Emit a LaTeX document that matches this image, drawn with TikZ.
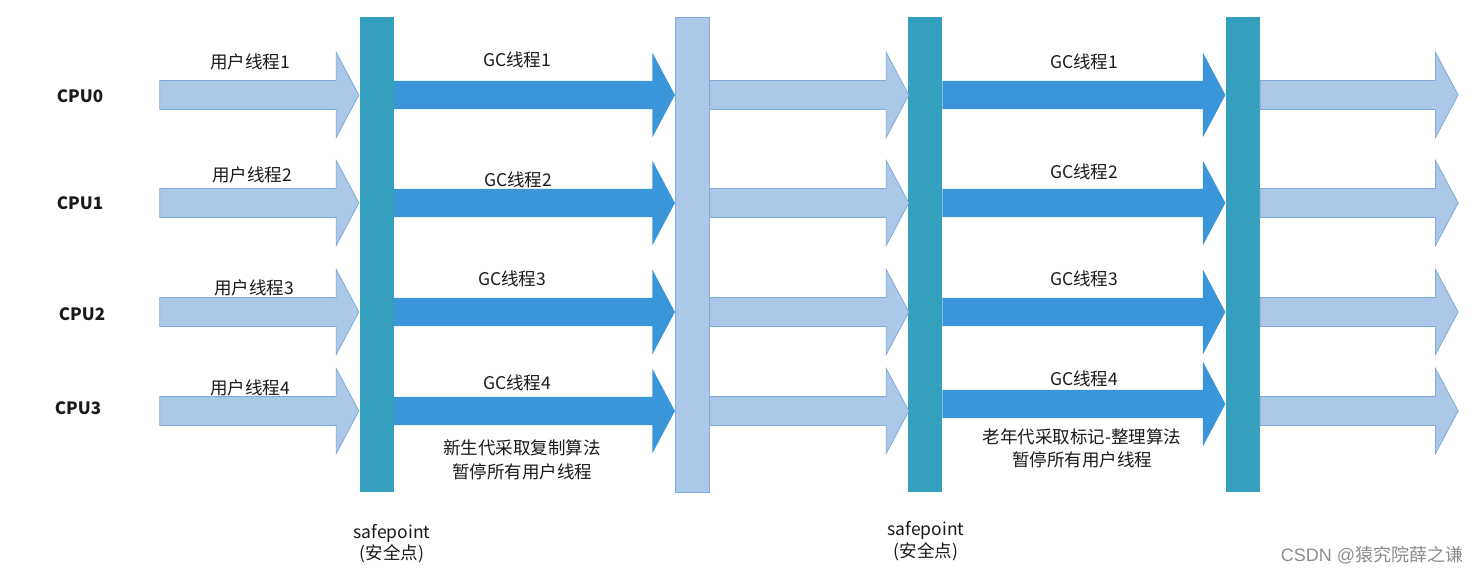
\documentclass[tikz,border=0pt]{standalone}
\usepackage{fontspec}
\usepackage{xcolor}
\usepackage{tikz}
\usetikzlibrary{shapes.arrows}
\setmainfont{Noto Sans CJK SC}
\newfontfamily\wmfont{Liberation Sans}
\definecolor{userblue}{HTML}{ABC8E8}
\definecolor{userline}{HTML}{80AADA}
\definecolor{gcblue}{HTML}{3A96D8}
\definecolor{safeteal}{HTML}{34A0BE}
\definecolor{ink}{HTML}{1A1A1A}
\definecolor{wmgrey}{HTML}{8C8C8C}
\newcommand{\cnfont}{\fontsize{17.5}{23.5}\selectfont}

\begin{document}
\begin{tikzpicture}[x=1pt, y=-1pt,
    bar/.style={rectangle, inner sep=0pt, minimum width=34pt, minimum height=475pt},
    safebar/.style={bar, fill=safeteal},
    endbar/.style={bar, fill=userblue, draw=userline, line width=0.8pt},
    blk/.style={single arrow, inner sep=0pt, inner ysep=14pt, minimum width=84pt, single arrow head extend=28pt, single arrow tip angle=124},
    uarrow/.style={blk, fill=userblue, draw=userline, line width=0.8pt},
    gcarrow/.style={blk, fill=gcblue},
    cpu/.style={font=\fontsize{17}{20}\selectfont\bfseries, text=ink, inner sep=0pt},
    lbl/.style={font=\cnfont, text=ink, inner sep=0pt},
    note/.style={font=\cnfont, text=ink, align=center, inner sep=0pt},
    wm/.style={font=\fontsize{18}{20}\selectfont, text=wmgrey, inner sep=0pt}
  ]
    \useasboundingbox (0,0) rectangle (1482,577);
    % safepoint bars
    \node[safebar] (safe1) at (376.5,254.5) {};
    \node[endbar] (resume1) at (692,254.5) {};
    \node[safebar] (safe2) at (925,254.5) {};
    \node[safebar] (resume2) at (1242.5,254.5) {};
    % user threads before the first safepoint
    \node[uarrow, anchor=tip, minimum height=199pt] (u0) at (safe1.west |- 0,95) {};
    \node[uarrow, anchor=tip, minimum height=199pt] (u1) at (safe1.west |- 0,203) {};
    \node[uarrow, anchor=tip, minimum height=199pt] (u2) at (safe1.west |- 0,312) {};
    \node[uarrow, anchor=tip, minimum height=199pt] (u3) at (safe1.west |- 0,411) {};
    % young gc
    \node[gcarrow, anchor=tail, minimum height=281pt] (ga0) at (safe1.east |- 0,95) {};
    \node[gcarrow, anchor=tail, minimum height=281pt] (ga1) at (safe1.east |- 0,203) {};
    \node[gcarrow, anchor=tail, minimum height=281pt] (ga2) at (safe1.east |- 0,312) {};
    \node[gcarrow, anchor=tail, minimum height=281pt] (ga3) at (safe1.east |- 0,411) {};
    % user threads again
    \node[uarrow, anchor=tail, minimum height=199pt] (v0) at (resume1.east |- 0,95) {};
    \node[uarrow, anchor=tail, minimum height=199pt] (v1) at (resume1.east |- 0,203) {};
    \node[uarrow, anchor=tail, minimum height=199pt] (v2) at (resume1.east |- 0,312) {};
    \node[uarrow, anchor=tail, minimum height=199pt] (v3) at (resume1.east |- 0,411) {};
    % old gc
    \node[gcarrow, anchor=tail, minimum height=283pt] (gb0) at (safe2.east |- 0,95) {};
    \node[gcarrow, anchor=tail, minimum height=283pt] (gb1) at (safe2.east |- 0,203) {};
    \node[gcarrow, anchor=tail, minimum height=283pt] (gb2) at (safe2.east |- 0,312) {};
    \node[gcarrow, anchor=tail, minimum height=283pt] (gb3) at (safe2.east |- 0,404) {};
    % user threads after
    \node[uarrow, anchor=tail, minimum height=198pt] (w0) at (resume2.east |- 0,95) {};
    \node[uarrow, anchor=tail, minimum height=198pt] (w1) at (resume2.east |- 0,203) {};
    \node[uarrow, anchor=tail, minimum height=198pt] (w2) at (resume2.east |- 0,312) {};
    \node[uarrow, anchor=tail, minimum height=198pt] (w3) at (resume2.east |- 0,411) {};
    % labels
    \node[cpu] (cpu0) at (80,96) {CPU0};
    \node[cpu] (cpu1) at (80,203) {CPU1};
    \node[cpu] (cpu2) at (82,314) {CPU2};
    \node[cpu] (cpu3) at (78,408) {CPU3};
    \node[lbl] (ut1) at (250,62) {用户线程1};
    \node[lbl] (ut2) at (252,175) {用户线程2};
    \node[lbl] (ut3) at (254,288) {用户线程3};
    \node[lbl] (ut4) at (250,388) {用户线程4};
    \node[lbl] (gca1) at (517,60) {GC线程1};
    \node[lbl] (gca2) at (518,180) {GC线程2};
    \node[lbl] (gca3) at (512,279) {GC线程3};
    \node[lbl] (gca4) at (517,383) {GC线程4};
    \node[lbl] (gcb1) at (1084,62) {GC线程1};
    \node[lbl] (gcb2) at (1084,172) {GC线程2};
    \node[lbl] (gcb3) at (1084,279) {GC线程3};
    \node[lbl] (gcb4) at (1084,379) {GC线程4};
    \node[note] (young) at (522,460) {新生代采取复制算法\\暂停所有用户线程};
    \node[note] (old) at (1082,448.5) {老年代采取标记-整理算法\\暂停所有用户线程};
    \node[note, font=\fontsize{17.5}{21.5}\selectfont] (sp1) at (392,543.5) {safepoint\\(安全点)};
    \node[note, font=\fontsize{17.5}{21.5}\selectfont] (sp2) at (926,541) {safepoint\\(安全点)};
    \node[wm] (mark) at (1372,555) {{\wmfont CSDN @}猿究院薛之谦};
  \end{tikzpicture}
\end{document}
